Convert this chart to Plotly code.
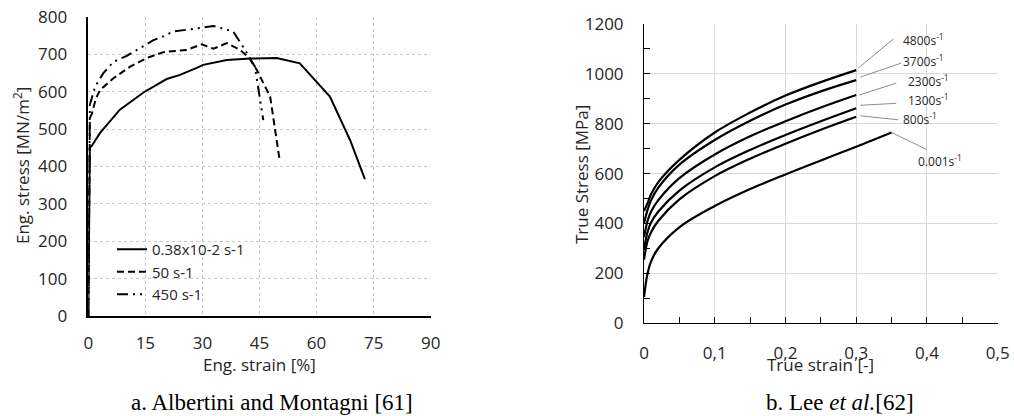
import plotly.graph_objects as go

W, H = 1014, 416

# ---------------- Left chart data (Albertini and Montagni) ----------------
left_names = ["0.38x10-2 s-1", "50 s-1", "450 s-1"]
slow_strain = [0, 0.4, 0.9, 3.1, 8.3, 14.5, 20.6, 24.1, 28.5, 30.2, 36.4, 42.5, 49.5, 55.6, 63.5, 68.8, 72.7]
slow_stress = [0, 450, 455, 490, 552, 598, 634, 645, 664, 672, 685, 689, 690, 676, 587, 471, 366]
mid_strain = [0, 0.4, 0.9, 2.0, 3.1, 6.6, 11.0, 15.3, 19.7, 21.5, 25.9, 29.8, 32.9, 36.4, 39.9, 42.3, 44.3, 47.8, 50.2]
mid_stress = [0, 530, 540, 582, 605, 636, 667, 690, 706, 708, 712, 727, 715, 730, 712, 690, 658, 587, 423]
fast_strain = [0, 0.4, 1.8, 3.9, 6.6, 10.1, 14.5, 17.1, 19.7, 22.3, 26.7, 32.9, 38.1, 41.2, 43.8, 46.0]
fast_stress = [0, 565, 614, 649, 680, 696, 722, 738, 748, 761, 767, 776, 761, 712, 667, 524]
left_xticks = [0, 15, 30, 45, 60, 75, 90]
left_yticks = [0, 100, 200, 300, 400, 500, 600, 700, 800]

# ---------------- Right chart data (Lee et al.) ----------------
rate_labels = ["4800s<sup>-1</sup>", "3700s<sup>-1</sup>", "2300s<sup>-1</sup>",
               "1300s<sup>-1</sup>", "800s<sup>-1</sup>", "0.001s<sup>-1</sup>"]
dyn_strain = [0, 0.005, 0.01, 0.02, 0.05, 0.1, 0.15, 0.2, 0.25, 0.3]
qs_strain = [0, 0.005, 0.01, 0.02, 0.05, 0.1, 0.15, 0.2, 0.25, 0.3, 0.35]
stress_4800 = [450, 482, 517, 565, 655, 765, 845, 913, 967, 1015]
stress_3700 = [400, 455, 493, 543, 636, 735, 812, 877, 930, 975]
stress_2300 = [345, 410, 448, 493, 582, 677, 750, 810, 865, 915]
stress_1300 = [295, 366, 404, 447, 532, 625, 695, 755, 810, 862]
stress_800 = [255, 330, 365, 410, 497, 590, 660, 720, 776, 828]
stress_0001 = [105, 200, 248, 300, 385, 470, 538, 597, 653, 708, 765]
right_xticks = [0, 0.1, 0.2, 0.3, 0.4, 0.5]
right_xticktext = ["0", "0,1", "0,2", "0,3", "0,4", "0,5"]
right_yticks = [0, 200, 400, 600, 800, 1000, 1200]

TXT = "#262626"
SANS = "Open Sans"
SERIF = "Liberation Serif"


def px(x):
    return x / W


def py(y):
    return 1 - y / H


fig = go.Figure()

# left traces
left_dashes = ["solid", "7px,4px", "11px,5px,2px,5px,2px,5px"]
for name, xs, ys, dash in zip(left_names,
                              [slow_strain, mid_strain, fast_strain],
                              [slow_stress, mid_stress, fast_stress],
                              left_dashes):
    fig.add_trace(go.Scatter(x=xs, y=ys, mode="lines", name=name,
                             line=dict(color="black", width=2, dash=dash),
                             xaxis="x", yaxis="y"))

# right traces
right_series = [(dyn_strain, stress_4800), (dyn_strain, stress_3700), (dyn_strain, stress_2300),
                (dyn_strain, stress_1300), (dyn_strain, stress_800), (qs_strain, stress_0001)]
for lab, (xs, ys) in zip(rate_labels, right_series):
    fig.add_trace(go.Scatter(x=xs, y=ys, mode="lines", showlegend=False,
                             line=dict(color="black", width=2.2, shape="spline", smoothing=1.0),
                             xaxis="x2", yaxis="y2"))

# leader lines (pixel offsets from curve ends) and labels
leader = [  # (dx0, dy0, dx1, dy1) in px, y up
    (2, 2, 37, 31),
    (4, 3, 45, 17),
    (3, 0, 40, 12),
    (4, 3, 40, 5),
    (4, 1, 42, -3),
    (0, 0, 35, -17),
]
label_shift = [(45, 30), (45, 19), (50, 14), (50, 8), (45, -2), (24, -28)]
shapes = []
annotations = []
for lab, (xs, ys), (a, b, c, d), (sx, sy) in zip(rate_labels, right_series, leader, label_shift):
    shapes.append(dict(type="line", xref="x2", yref="y2",
                       xsizemode="pixel", ysizemode="pixel",
                       xanchor=xs[-1], yanchor=ys[-1],
                       x0=a, y0=b, x1=c, y1=d,
                       line=dict(color="#8c8c8c", width=1)))
    annotations.append(dict(x=xs[-1], y=ys[-1], xref="x2", yref="y2", text=lab,
                            showarrow=False, xanchor="left", yanchor="middle",
                            xshift=sx, yshift=sy,
                            font=dict(family=SANS, size=12, color=TXT)))


def note(x, y, text, size, family=SANS, color=TXT, angle=0):
    return dict(x=px(x), y=py(y), xref="paper", yref="paper", text=text,
                xanchor="center", yanchor="middle", textangle=angle,
                showarrow=False, font=dict(family=family, size=size, color=color))


annotations += [
    note(21, 166, "Eng. stress [MN/m<sup>2</sup>]", 17, angle=-90),
    note(259, 364, "Eng. strain [%]", 17),
    note(272, 402, "a. Albertini and Montagni [61]", 23, SERIF, "black"),
    note(582, 175, "True Stress [MPa]", 17, angle=-90),
    note(820, 364, "True strain [-]", 17),
    note(840, 402, "b. Lee <i>et al.</i>[62]", 23, SERIF, "black"),
]

tickfont = dict(family=SANS, size=17, color=TXT)

fig.update_layout(
    width=W, height=H, autosize=False,
    margin=dict(l=0, r=0, t=0, b=0, pad=0, autoexpand=False),
    paper_bgcolor="white", plot_bgcolor="white",
    showlegend=True,
    legend=dict(x=px(112), y=py(233), xanchor="left", yanchor="top",
                bgcolor="rgba(0,0,0,0)", font=dict(family=SANS, size=15, color=TXT),
                tracegroupgap=0, itemwidth=30),
    xaxis=dict(domain=[px(88.3), px(430.7)], range=[0, 90], tickvals=left_xticks,
               showgrid=True, gridcolor="#c8c8c8", griddash="dot", gridwidth=1,
               zeroline=False, showline=True, linecolor="black", linewidth=1.5,
               ticks="", tickfont=tickfont, ticklabelstandoff=11, anchor="y", automargin=False),
    yaxis=dict(domain=[py(316), py(17)], range=[0, 800], tickvals=left_yticks,
               showgrid=True, gridcolor="#c8c8c8", griddash="dot", gridwidth=1,
               zeroline=False, showline=True, linecolor="black", linewidth=1.5,
               ticks="", tickfont=tickfont, ticklabelstandoff=16, anchor="x", automargin=False),
    xaxis2=dict(domain=[px(644), px(997.7)], range=[0, 0.5], tickvals=right_xticks,
                ticktext=right_xticktext,
                showgrid=True, gridcolor="#d9d9d9", gridwidth=1.3,
                zeroline=False, showline=True, linecolor="black", linewidth=1,
                ticks="inside", ticklen=6, tickcolor="black", tickwidth=1,
                minor=dict(dtick=0.05, ticks="inside", ticklen=6, tickcolor="black", showgrid=False),
                tickfont=tickfont, ticklabelstandoff=14, anchor="y2", automargin=False),
    yaxis2=dict(domain=[py(323.3), py(24)], range=[0, 1200], tickvals=right_yticks,
                showgrid=True, gridcolor="#d9d9d9", gridwidth=1.3,
                zeroline=False, showline=True, linecolor="black", linewidth=1,
                ticks="inside", ticklen=6, tickcolor="black", tickwidth=1,
                minor=dict(dtick=100, ticks="inside", ticklen=6, tickcolor="black", showgrid=False),
                tickfont=tickfont, ticklabelstandoff=16, anchor="x2", automargin=False),
    shapes=shapes,
    annotations=annotations,
)

fig.write_html("out.html")
